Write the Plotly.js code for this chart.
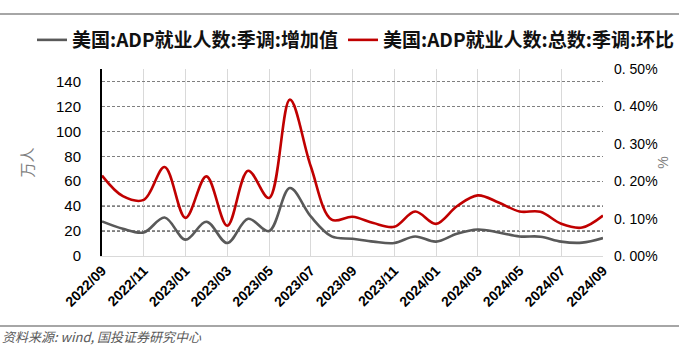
<!DOCTYPE html>
<html>
<head>
<meta charset="utf-8">
<script src="https://cdn.plot.ly/plotly-3.0.1.min.js"></script>
<style>
  html, body { margin: 0; padding: 0; background: #fff; }
  #chart { width: 679px; height: 345px; }
</style>
</head>
<body>
<div id="chart"></div>
<script>
// ---- data ----
const months = [
  "2022/09","2022/10","2022/11","2022/12",
  "2023/01","2023/02","2023/03","2023/04","2023/05","2023/06",
  "2023/07","2023/08","2023/09","2023/10","2023/11","2023/12",
  "2024/01","2024/02","2024/03","2024/04","2024/05","2024/06",
  "2024/07","2024/08","2024/09"
];
// 美国:ADP就业人数:季调:增加值 (万人, left axis)
const adpChange = [
  27.7, 21.8, 18.9, 30.9,
  13.1, 27.5, 10.4, 29.9, 20.0, 54.5,
  31.7, 15.7, 13.8, 11.5, 10.4, 15.7,
  11.5, 17.9, 21.3, 18.9, 15.7, 15.5,
  11.5, 10.7, 14.4
];
// 美国:ADP就业人数:总数:季调:环比 (%, right axis)
const adpMoM = [
  0.215, 0.160, 0.150, 0.238,
  0.102, 0.213, 0.081, 0.228, 0.155, 0.418,
  0.240, 0.097, 0.105, 0.088, 0.078, 0.119,
  0.086, 0.133, 0.162, 0.143, 0.119, 0.118,
  0.086, 0.076, 0.108
];
const seriesNames = ["美国:ADP就业人数:季调:增加值", "美国:ADP就业人数:总数:季调:环比"];
const xTickLabels = ["2022/09","2022/11","2023/01","2023/03","2023/05","2023/07","2023/09",
                     "2023/11","2024/01","2024/03","2024/05","2024/07","2024/09"];
const leftTicks = [0, 20, 40, 60, 80, 100, 120, 140];
const rightTicks = [0, 0.1, 0.2, 0.3, 0.4, 0.5];
const rightTickText = ["0. 00%", "0. 10%", "0. 20%", "0. 30%", "0. 40%", "0. 50%"];
const darkGridLevels = [20, 40];
const sourceText = "资料来源: wind, 国投证券研究中心";

const numFont = "Liberation Sans, Arial, sans-serif";
const cjkFont = "Noto Sans CJK SC, sans-serif";

const traces = [
  {
    x: months, y: adpChange, name: seriesNames[0], type: "scatter", mode: "lines",
    line: { color: "#595959", width: 2.6, shape: "spline", smoothing: 1 },
    yaxis: "y", legend: "legend", hoverinfo: "skip"
  },
  {
    x: months, y: adpMoM, name: seriesNames[1], type: "scatter", mode: "lines",
    line: { color: "#C00000", width: 2.6, shape: "spline", smoothing: 1 },
    yaxis: "y2", legend: "legend2", hoverinfo: "skip"
  }
];

const shapes = darkGridLevels.map(v => ({
  type: "line", xref: "paper", yref: "y", x0: 0, x1: 1, y0: v, y1: v,
  line: { color: "#000000", width: 1, dash: "3px,2px" }, layer: "below"
}));
// header and footer rules
shapes.push({ type: "line", xref: "paper", yref: "paper", x0: -0.21, x1: 1.16, y0: 1.294, y1: 1.294,
  line: { color: "#a6a6a6", width: 2 } });
shapes.push({ type: "line", xref: "paper", yref: "paper", x0: -0.21, x1: 1.16, y0: -0.374, y1: -0.374,
  line: { color: "#a6a6a6", width: 2 } });

const legendFont = { family: cjkFont, size: 19, color: "#111111", weight: 700 };

const layout = {
  width: 679, height: 345,
  margin: { l: 102, r: 76, t: 69, b: 89, autoexpand: false },
  paper_bgcolor: "#ffffff", plot_bgcolor: "#ffffff",
  showlegend: true,
  legend: {
    orientation: "h", x: -0.1397, xanchor: "left", y: 1.155, yanchor: "middle",
    font: legendFont, bgcolor: "rgba(0,0,0,0)", itemwidth: 30
  },
  legend2: {
    orientation: "h", x: 0.481, xanchor: "left", y: 1.155, yanchor: "middle",
    font: legendFont, bgcolor: "rgba(0,0,0,0)", itemwidth: 30
  },
  xaxis: {
    type: "category", categoryorder: "array", categoryarray: months,
    range: [0, months.length - 1],
    tickmode: "array", tickvals: xTickLabels, ticktext: xTickLabels,
    tickangle: -45,
    tickfont: { family: numFont, size: 14, color: "#000000", weight: 700 },
    showgrid: true, gridcolor: "#d9d9d9", gridwidth: 1,
    showline: true, linecolor: "#d9d9d9", linewidth: 1,
    ticks: "", zeroline: false, fixedrange: true
  },
  yaxis: {
    range: [0, 150], tickmode: "array", tickvals: leftTicks,
    tickfont: { family: numFont, size: 15, color: "#000000" },
    ticks: "", ticklabelstandoff: 16,
    showgrid: true, gridcolor: "#7f7f7f", gridwidth: 1, griddash: "3px,2px",
    showline: true, linecolor: "#000000", linewidth: 2,
    zeroline: false, fixedrange: true,
    title: { text: "万人", font: { family: cjkFont, size: 15, color: "#808080" }, standoff: 19 }
  },
  yaxis2: {
    overlaying: "y", side: "right", range: [0, 0.5],
    tickmode: "array", tickvals: rightTicks, ticktext: rightTickText,
    tickfont: { family: numFont, size: 14, color: "#000000" },
    ticks: "", ticklabelstandoff: 10,
    showgrid: false, showline: false, zeroline: false, fixedrange: true,
    title: { text: "%", font: { family: numFont, size: 14, color: "#808080" }, standoff: 1 }
  },
  shapes: shapes,
  annotations: [
    {
      xref: "paper", yref: "paper", x: -0.2036, y: -0.428, xanchor: "left", yanchor: "middle",
      text: "<i>" + sourceText + "</i>", showarrow: false,
      font: { family: cjkFont, size: 13, color: "#595959" }
    }
  ]
};

Plotly.newPlot("chart", traces, layout, { staticPlot: true, displayModeBar: false });
</script>
</body>
</html>
